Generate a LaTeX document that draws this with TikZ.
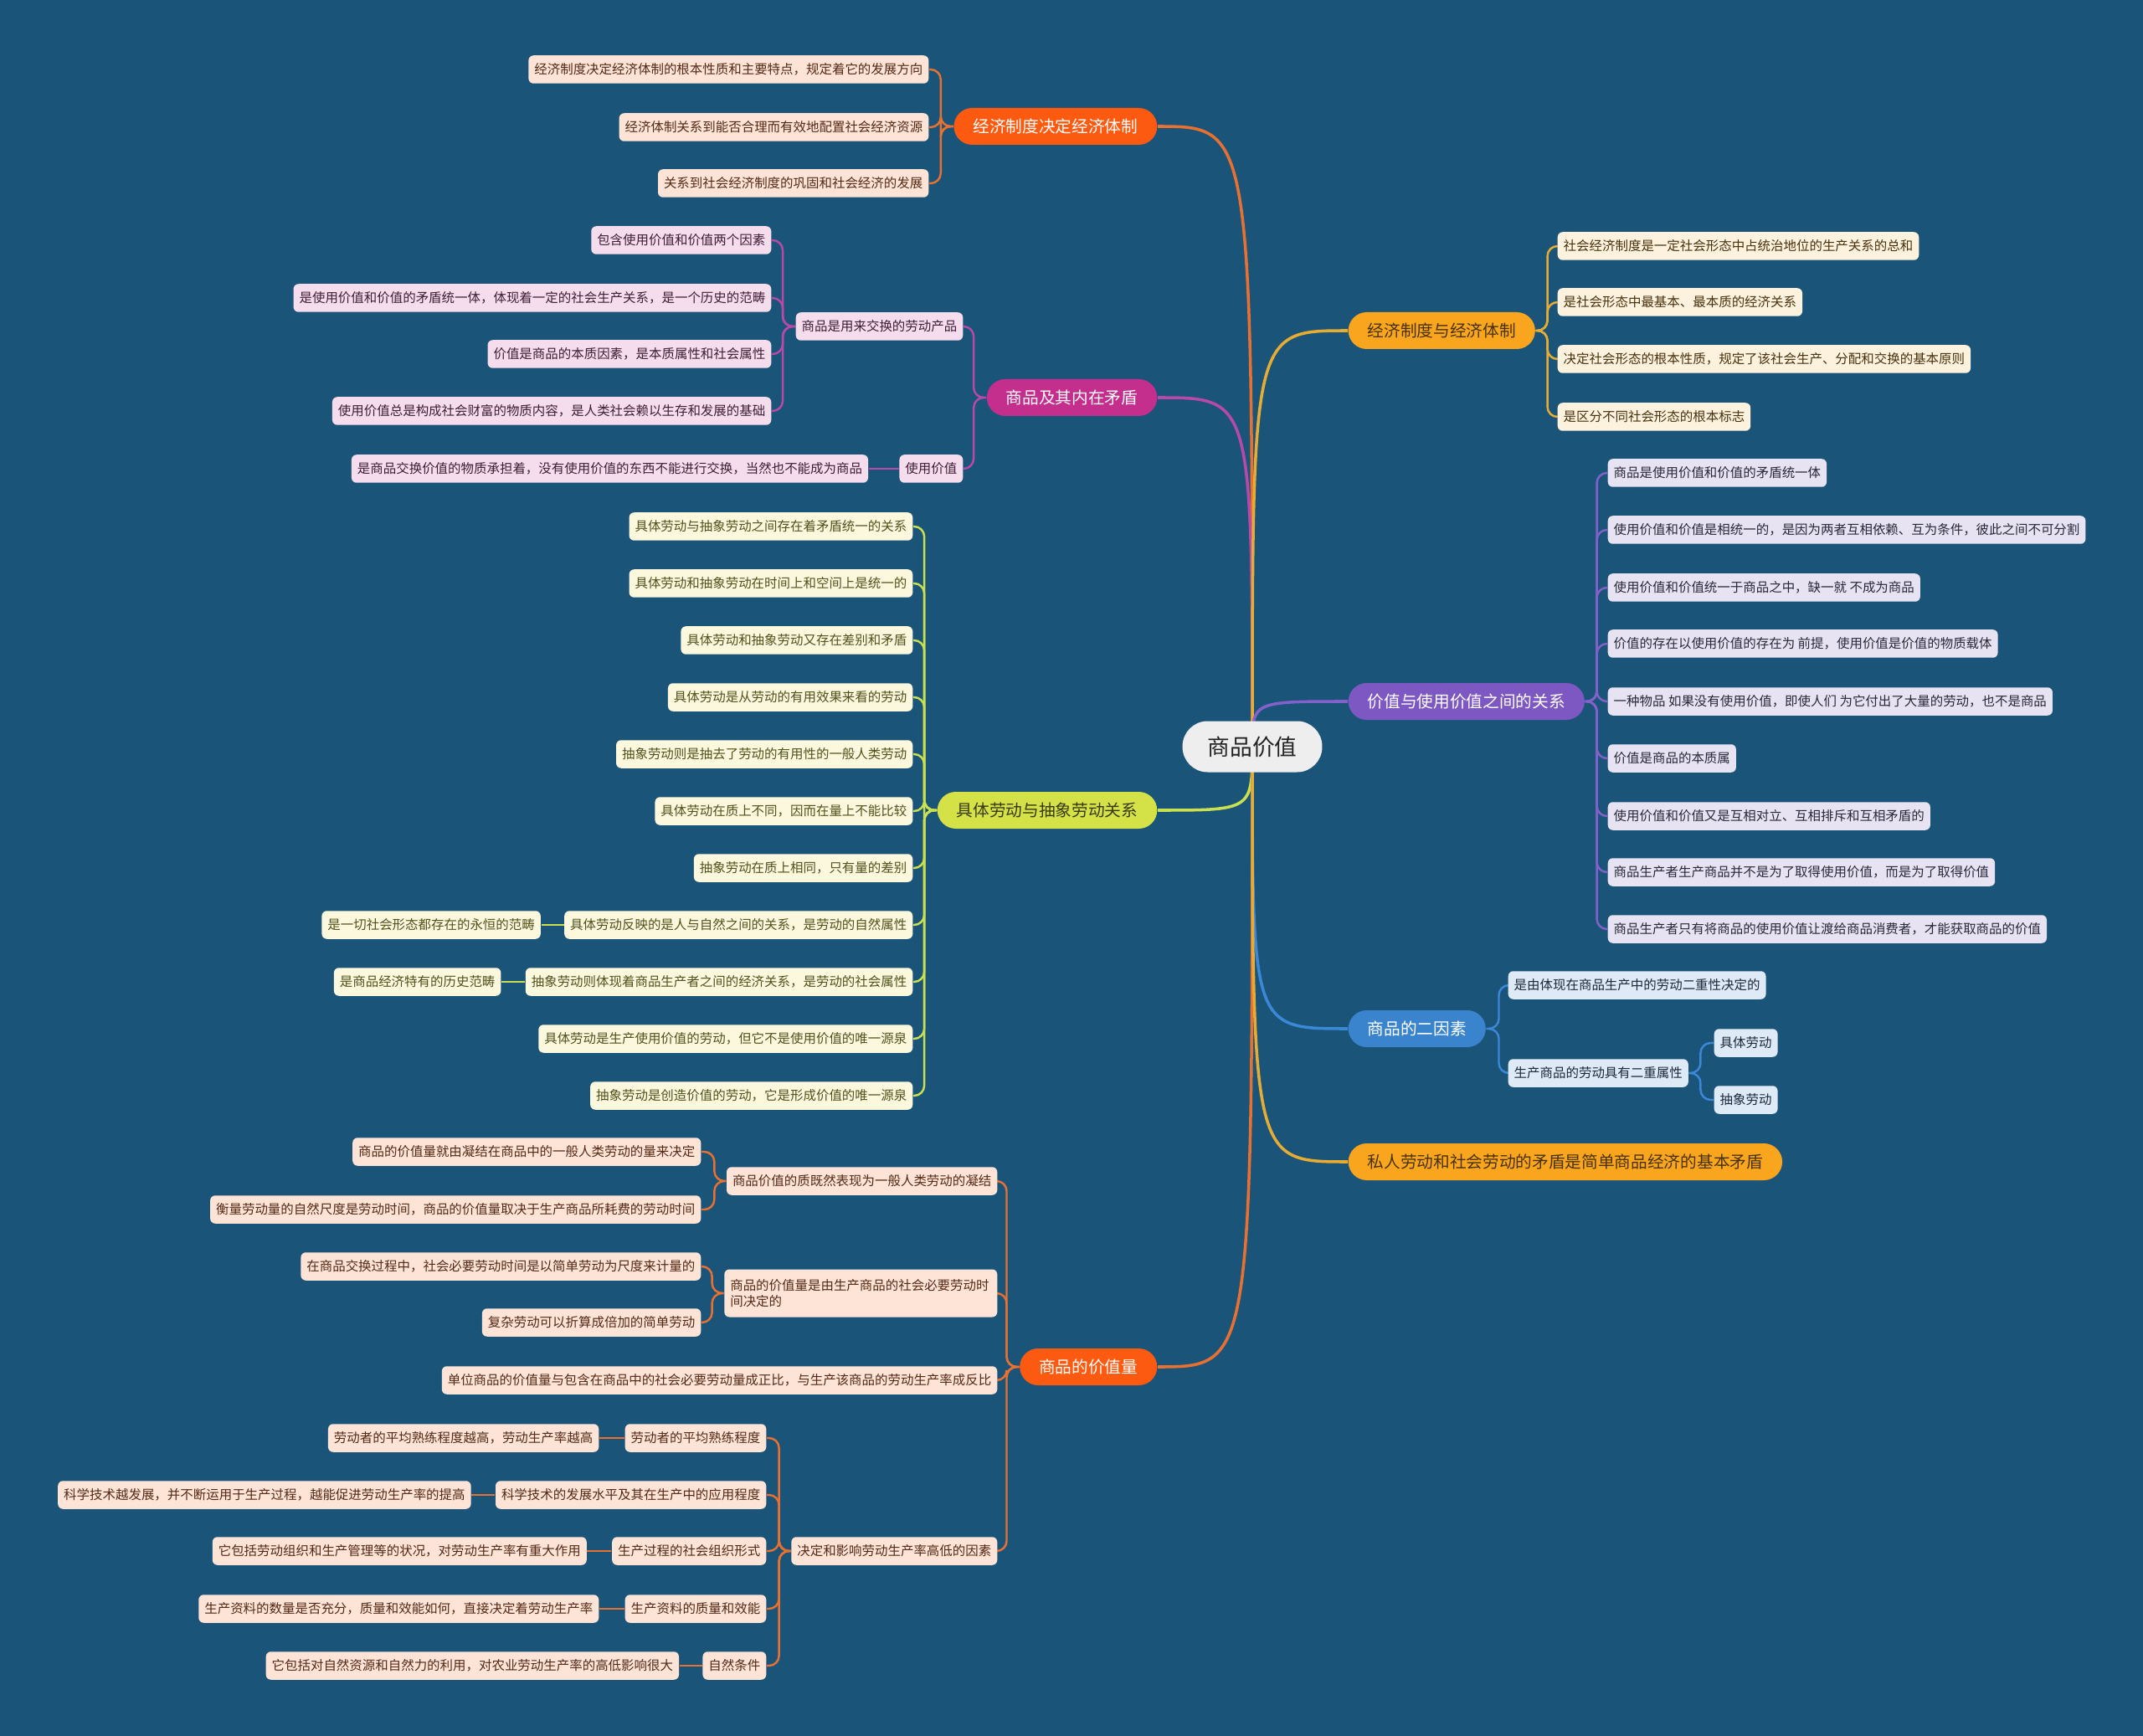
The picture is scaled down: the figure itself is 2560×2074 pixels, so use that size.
\documentclass[tikz,border=0pt]{standalone}
\usepackage{fontspec}
\setmainfont{Noto Sans CJK SC}
\usetikzlibrary{positioning,backgrounds}
\pgfdeclarelayer{edges}
\pgfsetlayers{background,edges,main}
\definecolor{map-bg}{RGB}{27,84,121}
\definecolor{root-fill}{RGB}{238,238,238}
\definecolor{root-ink}{RGB}{34,34,34}
\definecolor{red-topic}{RGB}{252,90,16}
\definecolor{red-leaf}{RGB}{253,228,214}
\definecolor{red-ink}{RGB}{84,42,22}
\definecolor{red-line}{RGB}{232,112,48}
\definecolor{mag-topic}{RGB}{196,46,140}
\definecolor{mag-leaf}{RGB}{246,221,238}
\definecolor{mag-ink}{RGB}{62,30,52}
\definecolor{mag-line}{RGB}{184,72,170}
\definecolor{lime-topic}{RGB}{212,226,72}
\definecolor{lime-leaf}{RGB}{251,248,222}
\definecolor{lime-ink}{RGB}{80,82,28}
\definecolor{lime-line}{RGB}{202,224,80}
\definecolor{amb-topic}{RGB}{249,166,30}
\definecolor{amb-leaf}{RGB}{253,242,222}
\definecolor{amb-ink}{RGB}{72,50,14}
\definecolor{amb-line}{RGB}{230,172,52}
\definecolor{pur-topic}{RGB}{126,88,194}
\definecolor{pur-leaf}{RGB}{231,227,243}
\definecolor{pur-ink}{RGB}{40,40,58}
\definecolor{pur-line}{RGB}{130,98,202}
\definecolor{blu-topic}{RGB}{58,132,206}
\definecolor{blu-leaf}{RGB}{222,234,246}
\definecolor{blu-ink}{RGB}{30,40,60}
\definecolor{blu-line}{RGB}{58,136,214}

\begin{document}
\begin{tikzpicture}[x=0.1mm, y=-0.1mm,
    root/.style={
      fill=root-fill, text=root-ink, rounded corners=3mm,
      minimum height=6.1mm, inner xsep=3mm, inner ysep=0pt,
      font=\fontsize{7.6}{9}\selectfont},
    topic/.style={
      rounded corners=2.2mm, minimum height=4.4mm,
      inner xsep=2.3mm, inner ysep=0pt,
      font=\fontsize{5.6}{6.7}\selectfont},
    leaf/.style={
      rounded corners=0.6mm, minimum height=3.35mm,
      inner xsep=0.7mm, inner ysep=0pt,
      font=\fontsize{4.4}{5.5}\selectfont},
    redtopic/.style={topic, fill=red-topic, text=white},
    magtopic/.style={topic, fill=mag-topic, text=white},
    limetopic/.style={topic, fill=lime-topic, text=lime-ink!70!black},
    ambtopic/.style={topic, fill=amb-topic, text=amb-ink},
    purtopic/.style={topic, fill=pur-topic, text=white},
    blutopic/.style={topic, fill=blu-topic, text=white},
    redleaf/.style={leaf, fill=red-leaf, text=red-ink},
    magleaf/.style={leaf, fill=mag-leaf, text=mag-ink},
    limeleaf/.style={leaf, fill=lime-leaf, text=lime-ink},
    ambleaf/.style={leaf, fill=amb-leaf, text=amb-ink},
    purleaf/.style={leaf, fill=pur-leaf, text=pur-ink},
    bluleaf/.style={leaf, fill=blu-leaf, text=blu-ink},
    link/.style={line width=1pt},
    twig/.style={line width=0.7pt, rounded corners=1.2mm}
  ]
  \useasboundingbox (0,0) rectangle (2560,2074);
  \begin{scope}[on background layer]
    \fill[map-bg] (0,0) rectangle (2560,2074);
  \end{scope}

  \node[root] (root) at (1496,892) {商品价值};

  % left: economic system
  \node[redtopic, anchor=east] (eco) at (1383,151) {经济制度决定经济体制};
  \node[redleaf, anchor=east] (eco1) at (1110,83) {经济制度决定经济体制的根本性质和主要特点，规定着它的发展方向};
  \node[redleaf, anchor=east] (eco2) at (1110,152) {经济体制关系到能否合理而有效地配置社会经济资源};
  \node[redleaf, anchor=east] (eco3) at (1110,219) {关系到社会经济制度的巩固和社会经济的发展};

  % left: commodity
  \node[magtopic, anchor=east] (com) at (1383,475) {商品及其内在矛盾};
  \node[magleaf, anchor=east] (unit) at (1151,390) {商品是用来交换的劳动产品};
  \node[magleaf, anchor=east] (unit1) at (922,287) {包含使用价值和价值两个因素};
  \node[magleaf, anchor=east] (unit2) at (922,356) {是使用价值和价值的矛盾统一体，体现着一定的社会生产关系，是一个历史的范畴};
  \node[magleaf, anchor=east] (unit3) at (922,423) {价值是商品的本质因素，是本质属性和社会属性};
  \node[magleaf, anchor=east] (unit4) at (922,491) {使用价值总是构成社会财富的物质内容，是人类社会赖以生存和发展的基础};
  \node[magleaf, anchor=east] (use) at (1151,560) {使用价值};
  \node[magleaf, left=3.6mm of use] (use1) {是商品交换价值的物质承担着，没有使用价值的东西不能进行交换，当然也不能成为商品};

  % left: concrete and abstract labour
  \node[limetopic, anchor=east] (lab) at (1383,968) {具体劳动与抽象劳动关系};
  \node[limeleaf, anchor=east] (lab1) at (1091,629) {具体劳动与抽象劳动之间存在着矛盾统一的关系};
  \node[limeleaf, anchor=east] (lab2) at (1091,697) {具体劳动和抽象劳动在时间上和空间上是统一的};
  \node[limeleaf, anchor=east] (lab3) at (1091,765) {具体劳动和抽象劳动又存在差别和矛盾};
  \node[limeleaf, anchor=east] (lab4) at (1091,833) {具体劳动是从劳动的有用效果来看的劳动};
  \node[limeleaf, anchor=east] (lab5) at (1091,901) {抽象劳动则是抽去了劳动的有用性的一般人类劳动};
  \node[limeleaf, anchor=east] (lab6) at (1091,969) {具体劳动在质上不同，因而在量上不能比较};
  \node[limeleaf, anchor=east] (lab7) at (1091,1037) {抽象劳动在质上相同，只有量的差别};
  \node[limeleaf, anchor=east] (lab8) at (1091,1105) {具体劳动反映的是人与自然之间的关系，是劳动的自然属性};
  \node[limeleaf, left=2.7mm of lab8] (lab8a) {是一切社会形态都存在的永恒的范畴};
  \node[limeleaf, anchor=east] (lab9) at (1091,1173) {抽象劳动则体现着商品生产者之间的经济关系，是劳动的社会属性};
  \node[limeleaf, left=2.8mm of lab9] (lab9a) {是商品经济特有的历史范畴};
  \node[limeleaf, anchor=east] (lab10) at (1091,1241) {具体劳动是生产使用价值的劳动，但它不是使用价值的唯一源泉};
  \node[limeleaf, anchor=east] (lab11) at (1091,1309) {抽象劳动是创造价值的劳动，它是形成价值的唯一源泉};

  % left: magnitude of value
  \node[redtopic, anchor=east] (mag) at (1383,1633) {商品的价值量};
  \node[redleaf, anchor=east] (mag1) at (1192,1411) {商品价值的质既然表现为一般人类劳动的凝结};
  \node[redleaf, anchor=east] (mag1a) at (838,1376) {商品的价值量就由凝结在商品中的一般人类劳动的量来决定};
  \node[redleaf, anchor=east] (mag1b) at (838,1445) {衡量劳动量的自然尺度是劳动时间，商品的价值量取决于生产商品所耗费的劳动时间};
  \node[redleaf, anchor=east, text width=31.2mm, align=left, minimum height=5.7mm] (mag2) at (1192,1545)
    {商品的价值量是由生产商品的社会必要劳动时\\间决定的};
  \node[redleaf, anchor=east] (mag2a) at (838,1513) {在商品交换过程中，社会必要劳动时间是以简单劳动为尺度来计量的};
  \node[redleaf, anchor=east] (mag2b) at (838,1580) {复杂劳动可以折算成倍加的简单劳动};
  \node[redleaf, anchor=east] (mag3) at (1192,1649) {单位商品的价值量与包含在商品中的社会必要劳动量成正比，与生产该商品的劳动生产率成反比};
  \node[redleaf, anchor=east] (mag4) at (1192,1853) {决定和影响劳动生产率高低的因素};
  \node[redleaf, anchor=east] (fac1) at (916,1718) {劳动者的平均熟练程度};
  \node[redleaf, left=3mm of fac1] (fac1a) {劳动者的平均熟练程度越高，劳动生产率越高};
  \node[redleaf, anchor=east] (fac2) at (916,1786) {科学技术的发展水平及其在生产中的应用程度};
  \node[redleaf, left=2.8mm of fac2] (fac2a) {科学技术越发展，并不断运用于生产过程，越能促进劳动生产率的提高};
  \node[redleaf, anchor=east] (fac3) at (916,1853) {生产过程的社会组织形式};
  \node[redleaf, left=2.9mm of fac3] (fac3a) {它包括劳动组织和生产管理等的状况，对劳动生产率有重大作用};
  \node[redleaf, anchor=east] (fac4) at (916,1922) {生产资料的质量和效能};
  \node[redleaf, left=3mm of fac4] (fac4a) {生产资料的数量是否充分，质量和效能如何，直接决定着劳动生产率};
  \node[redleaf, anchor=east] (fac5) at (916,1990) {自然条件};
  \node[redleaf, left=2.7mm of fac5] (fac5a) {它包括对自然资源和自然力的利用，对农业劳动生产率的高低影响很大};

  % right: system
  \node[ambtopic, anchor=west] (sys) at (1610,395) {经济制度与经济体制};
  \node[ambleaf, anchor=west] (sys1) at (1860,294) {社会经济制度是一定社会形态中占统治地位的生产关系的总和};
  \node[ambleaf, anchor=west] (sys2) at (1860,361) {是社会形态中最基本、最本质的经济关系};
  \node[ambleaf, anchor=west] (sys3) at (1860,429) {决定社会形态的根本性质，规定了该社会生产、分配和交换的基本原则};
  \node[ambleaf, anchor=west] (sys4) at (1860,498) {是区分不同社会形态的根本标志};

  % right: value and use value
  \node[purtopic, anchor=west] (rel) at (1610,838) {价值与使用价值之间的关系};
  \node[purleaf, anchor=west] (rel1) at (1920,565) {商品是使用价值和价值的矛盾统一体};
  \node[purleaf, anchor=west] (rel2) at (1920,633) {使用价值和价值是相统一的，是因为两者互相依赖、互为条件，彼此之间不可分割};
  \node[purleaf, anchor=west] (rel3) at (1920,702) {使用价值和价值统一于商品之中，缺一就 不成为商品};
  \node[purleaf, anchor=west] (rel4) at (1920,769) {价值的存在以使用价值的存在为 前提，使用价值是价值的物质载体};
  \node[purleaf, anchor=west] (rel5) at (1920,838) {一种物品 如果没有使用价值，即使人们 为它付出了大量的劳动，也不是商品};
  \node[purleaf, anchor=west] (rel6) at (1920,906) {价值是商品的本质属};
  \node[purleaf, anchor=west] (rel7) at (1920,975) {使用价值和价值又是互相对立、互相排斥和互相矛盾的};
  \node[purleaf, anchor=west] (rel8) at (1920,1042) {商品生产者生产商品并不是为了取得使用价值，而是为了取得价值};
  \node[purleaf, anchor=west] (rel9) at (1920,1110) {商品生产者只有将商品的使用价值让渡给商品消费者，才能获取商品的价值};

  % right: two factors
  \node[blutopic, anchor=west] (two) at (1610,1229) {商品的二因素};
  \node[bluleaf, anchor=west] (two1) at (1801,1177) {是由体现在商品生产中的劳动二重性决定的};
  \node[bluleaf, anchor=west] (two2) at (1801,1282) {生产商品的劳动具有二重属性};
  \node[bluleaf, anchor=west] (two2a) at (2047,1246) {具体劳动};
  \node[bluleaf, anchor=west] (two2b) at (2047,1314) {抽象劳动};

  % right: basic contradiction
  \node[ambtopic, anchor=west] (pri) at (1610,1388) {私人劳动和社会劳动的矛盾是简单商品经济的基本矛盾};

  \begin{pgfonlayer}{edges}
    % main links
    \draw[link, red-line] (root.center) .. controls (root.center |- eco.east) and (root.center |- eco.east) .. (eco.east);
    \draw[link, mag-line] (root.center) .. controls (root.center |- com.east) and (root.center |- com.east) .. (com.east);
    \draw[link, lime-line] (root.center) .. controls (root.center |- lab.east) and (root.center |- lab.east) .. (lab.east);
    \draw[link, red-line] (root.center) .. controls (root.center |- mag.east) and (root.center |- mag.east) .. (mag.east);
    \draw[link, amb-line] (root.center) .. controls (root.center |- sys.west) and (root.center |- sys.west) .. (sys.west);
    \draw[link, pur-line] (root.center) .. controls (root.center |- rel.west) and (root.center |- rel.west) .. (rel.west);
    \draw[link, blu-line] (root.center) .. controls (root.center |- two.west) and (root.center |- two.west) .. (two.west);
    \draw[link, amb-line] (root.center) .. controls (root.center |- pri.west) and (root.center |- pri.west) .. (pri.west);

    % economic system
    \draw[twig, red-line] (eco.west) -- ++(-15,0) |- (eco1.east);
    \draw[twig, red-line] (eco.west) -- ++(-15,0) |- (eco2.east);
    \draw[twig, red-line] (eco.west) -- ++(-15,0) |- (eco3.east);

    % commodity
    \draw[twig, mag-line] (com.west) -- ++(-15,0) |- (unit.east);
    \draw[twig, mag-line] (com.west) -- ++(-15,0) |- (use.east);
    \draw[twig, mag-line] (unit.west) -- ++(-15,0) |- (unit1.east);
    \draw[twig, mag-line] (unit.west) -- ++(-15,0) |- (unit2.east);
    \draw[twig, mag-line] (unit.west) -- ++(-15,0) |- (unit3.east);
    \draw[twig, mag-line] (unit.west) -- ++(-15,0) |- (unit4.east);
    \draw[twig, mag-line] (use.west) -- (use1.east);

    % labour
    \draw[twig, lime-line] (lab.west) -- ++(-15,0) |- (lab1.east);
    \draw[twig, lime-line] (lab.west) -- ++(-15,0) |- (lab2.east);
    \draw[twig, lime-line] (lab.west) -- ++(-15,0) |- (lab3.east);
    \draw[twig, lime-line] (lab.west) -- ++(-15,0) |- (lab4.east);
    \draw[twig, lime-line] (lab.west) -- ++(-15,0) |- (lab5.east);
    \draw[twig, lime-line] (lab.west) -- ++(-15,0) |- (lab6.east);
    \draw[twig, lime-line] (lab.west) -- ++(-15,0) |- (lab7.east);
    \draw[twig, lime-line] (lab.west) -- ++(-15,0) |- (lab8.east);
    \draw[twig, lime-line] (lab.west) -- ++(-15,0) |- (lab9.east);
    \draw[twig, lime-line] (lab.west) -- ++(-15,0) |- (lab10.east);
    \draw[twig, lime-line] (lab.west) -- ++(-15,0) |- (lab11.east);
    \draw[twig, lime-line] (lab8.west) -- (lab8a.east);
    \draw[twig, lime-line] (lab9.west) -- (lab9a.east);

    % magnitude of value
    \draw[twig, red-line] (mag.west) -- ++(-15,0) |- (mag1.east);
    \draw[twig, red-line] (mag.west) -- ++(-15,0) |- (mag2.east);
    \draw[twig, red-line] (mag.west) -- ++(-15,0) |- (mag3.east);
    \draw[twig, red-line] (mag.west) -- ++(-15,0) |- (mag4.east);
    \draw[twig, red-line] (mag1.west) -- ++(-14,0) |- (mag1a.east);
    \draw[twig, red-line] (mag1.west) -- ++(-14,0) |- (mag1b.east);
    \draw[twig, red-line] (mag2.west) -- ++(-14,0) |- (mag2a.east);
    \draw[twig, red-line] (mag2.west) -- ++(-14,0) |- (mag2b.east);
    \draw[twig, red-line] (mag4.west) -- ++(-14,0) |- (fac1.east);
    \draw[twig, red-line] (mag4.west) -- ++(-14,0) |- (fac2.east);
    \draw[twig, red-line] (mag4.west) -- ++(-14,0) |- (fac3.east);
    \draw[twig, red-line] (mag4.west) -- ++(-14,0) |- (fac4.east);
    \draw[twig, red-line] (mag4.west) -- ++(-14,0) |- (fac5.east);
    \draw[twig, red-line] (fac1.west) -- (fac1a.east);
    \draw[twig, red-line] (fac2.west) -- (fac2a.east);
    \draw[twig, red-line] (fac3.west) -- (fac3a.east);
    \draw[twig, red-line] (fac4.west) -- (fac4a.east);
    \draw[twig, red-line] (fac5.west) -- (fac5a.east);

    % system
    \draw[twig, amb-line] (sys.east) -- ++(14,0) |- (sys1.west);
    \draw[twig, amb-line] (sys.east) -- ++(14,0) |- (sys2.west);
    \draw[twig, amb-line] (sys.east) -- ++(14,0) |- (sys3.west);
    \draw[twig, amb-line] (sys.east) -- ++(14,0) |- (sys4.west);

    % value and use value
    \draw[twig, pur-line] (rel.east) -- ++(14,0) |- (rel1.west);
    \draw[twig, pur-line] (rel.east) -- ++(14,0) |- (rel2.west);
    \draw[twig, pur-line] (rel.east) -- ++(14,0) |- (rel3.west);
    \draw[twig, pur-line] (rel.east) -- ++(14,0) |- (rel4.west);
    \draw[twig, pur-line] (rel.east) -- ++(14,0) |- (rel5.west);
    \draw[twig, pur-line] (rel.east) -- ++(14,0) |- (rel6.west);
    \draw[twig, pur-line] (rel.east) -- ++(14,0) |- (rel7.west);
    \draw[twig, pur-line] (rel.east) -- ++(14,0) |- (rel8.west);
    \draw[twig, pur-line] (rel.east) -- ++(14,0) |- (rel9.west);

    % two factors
    \draw[twig, blu-line] (two.east) -- ++(15,0) |- (two1.west);
    \draw[twig, blu-line] (two.east) -- ++(15,0) |- (two2.west);
    \draw[twig, blu-line] (two2.east) -- ++(14,0) |- (two2a.west);
    \draw[twig, blu-line] (two2.east) -- ++(14,0) |- (two2b.west);
  \end{pgfonlayer}
\end{tikzpicture}
\end{document}
